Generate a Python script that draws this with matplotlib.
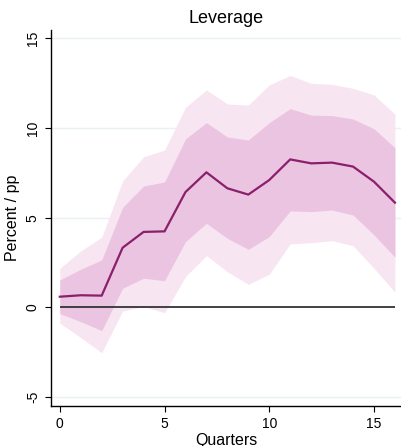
import matplotlib.pyplot as plt

plt.rcParams['font.family'] = ['Liberation Sans', 'DejaVu Sans']

# impulse response of leverage
quarters = list(range(17))
irf = [0.60, 0.68, 0.66, 3.33, 4.21, 4.24, 6.43, 7.53, 6.64, 6.29, 7.10,
       8.25, 8.03, 8.07, 7.85, 7.01, 5.84]
# inner (darker) band
inner_lo = [-0.34, -0.79, -1.29, 1.07, 1.63, 1.49, 3.67, 4.69, 3.85, 3.24, 3.95,
            5.38, 5.34, 5.43, 5.15, 4.04, 2.80]
inner_hi = [1.53, 2.13, 2.65, 5.58, 6.77, 6.99, 9.39, 10.30, 9.50, 9.33, 10.30,
            11.08, 10.72, 10.69, 10.50, 9.96, 8.90]
# outer (lighter) band
outer_lo = [-0.87, -1.68, -2.52, -0.20, 0.05, -0.29, 1.72, 2.89, 1.99, 1.29, 1.85,
            3.54, 3.61, 3.72, 3.44, 2.18, 0.85]
outer_hi = [2.18, 3.15, 3.91, 7.05, 8.40, 8.77, 11.15, 12.12, 11.34, 11.28, 12.40,
            12.93, 12.49, 12.43, 12.21, 11.84, 10.78]

yticks = [-5, 0, 5, 10, 15]
xticks = [0, 5, 10, 15]

fig = plt.figure(figsize=(4.01, 4.46), dpi=100)
ax = fig.add_axes([51/401, 40/446, 350/401, 376/446])

for y in yticks:
    if y != 0:
        ax.axhline(y, color='#e9f1f3', lw=1, zorder=0)

ax.fill_between(quarters, outer_lo, outer_hi, color='#f7e6f2', lw=0, zorder=1)
ax.fill_between(quarters, inner_lo, inner_hi, color='#ebc4e2', lw=0, zorder=2)
ax.hlines(0, quarters[0], quarters[-1], color='#333333', lw=1.3, zorder=3)
ax.plot(quarters, irf, color='#8a1f6b', lw=1.6, zorder=4)

ax.set_xlim(-0.42, 16.29)
ax.set_ylim(-5.49, 15.46)
ax.set_xticks(xticks)
ax.set_yticks(yticks)
ax.set_yticklabels([str(v) for v in yticks], rotation=90, va='center')
ax.tick_params(labelsize=10, length=4.5, width=0.8, colors='black')
ax.spines['top'].set_visible(False)
ax.spines['right'].set_visible(False)
ax.spines['left'].set_linewidth(1)
ax.spines['bottom'].set_linewidth(1)

ax.set_title('Leverage', fontsize=13, pad=5)
ax.set_xlabel('Quarters', fontsize=11.5, labelpad=1)
ax.set_ylabel('Percent / pp', fontsize=11.5, labelpad=4)

fig.savefig('out.png', dpi=100)
